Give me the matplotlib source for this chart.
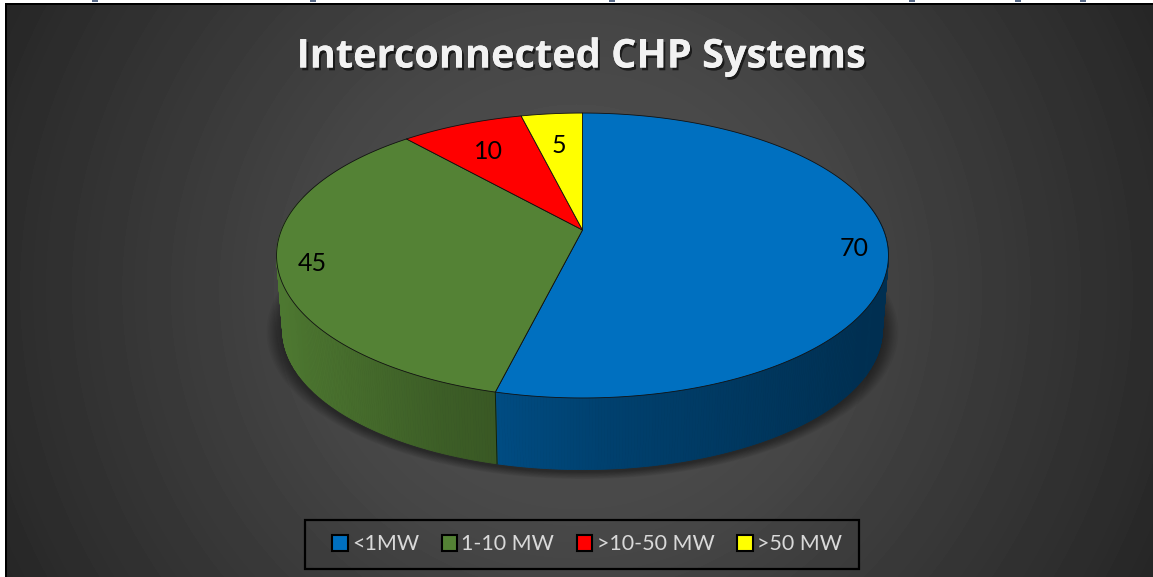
import numpy as np
import matplotlib
matplotlib.use("Agg")
import matplotlib.pyplot as plt
import matplotlib.patheffects as pe
from matplotlib.patches import Patch, Rectangle

categories = ["<1MW", "1-10 MW", ">10-50 MW", ">50 MW"]
values = [70, 45, 10, 5]
colors = ["#0070C0", "#548235", "#FF0000", "#FFFF00"]
label_radius = [0.89, 0.89, 0.75, 0.72]
title = "Interconnected CHP Systems"
# bits of the cropped caption line above the chart
caption_bits = [95, 313, 612, 912, 1018, 1083]

plt.rcParams["font.family"] = ["Lato", "DejaVu Sans"]

W, H = 1153, 577
fig = plt.figure(figsize=(W / 100, H / 100), dpi=100, facecolor="white")
ax = fig.add_axes([0, 0, 1, 1])
ax.axis("off")

# perspective view of a flat disc
cx, cy = 582.5, 230
A, B, k = 301, 137.9, 0.179
depth = 75
side_scale = 0.98


def project(theta, r=1.0):
    # theta in radians, clockwise from 12 o'clock
    u = r * np.sin(theta)
    v = r * np.cos(theta)
    d = 1 + k * v
    return A * u / d, B * v / d


def top_xy(theta, r=1.0):
    x, y = project(theta, r)
    return cx + x, cy - y


def low_xy(theta):
    x, y = project(theta)
    return cx + side_scale * x, cy + depth - side_scale * y


# background
yy, xx = np.mgrid[0:H, 0:W]
dist = np.hypot(xx - 576, yy - 290)
gray = np.interp(dist, [0, 280, 330, 476, 580, 640], [86, 69, 64, 52, 44, 38]) / 255
ax.imshow(gray, cmap="gray", vmin=0, vmax=1, extent=(0, W, H, 0), aspect="auto", zorder=0)
ax.set_xlim(0, W)
ax.set_ylim(H, 0)

# white margin and black frame of the pasted picture
ax.add_patch(Rectangle((0, 0), 5, H, fc="white", ec="none", zorder=1))
ax.add_patch(Rectangle((0, 0), W, 3, fc="white", ec="none", zorder=1))
ax.add_patch(Rectangle((5, 3), 2, H, fc="black", ec="none", zorder=1))
ax.add_patch(Rectangle((5, 3), W, 1.6, fc="black", ec="none", zorder=1))
for x in caption_bits:
    ax.add_patch(Rectangle((x - 3, 0), 6, 2, fc="#5a6c8a", ec="none", zorder=1))

# soft shadow under the disc
t = np.linspace(0, 2 * np.pi, 361)
lx, ly = low_xy(t)
lcx, lcy = lx.mean(), (ly.min() + ly.max()) / 2
for grow in np.arange(16, 0, -1.5):
    f = 1 + grow / 300
    ax.fill(lcx + (lx - lcx) * f, lcy + 2 + (ly - lcy) * f, color="black", alpha=0.045, lw=0, zorder=2)

# angles of the slices, clockwise from the top
fractions = np.array(values) / sum(values)
starts = 2 * np.pi * np.concatenate([[0], np.cumsum(fractions)[:-1]])
ends = 2 * np.pi * np.cumsum(fractions)

shade_x = [280, 440, 495, 600, 880]
shade_f = [0.92, 0.72, 0.68, 0.58, 0.42]

# rim, drawn as thin vertical strips
for s, e, c in zip(starts, ends, colors):
    rgb = np.array(matplotlib.colors.to_rgb(c))
    th = np.linspace(s, e, max(int((e - s) * 120), 2))
    for a, b in zip(th[:-1], th[1:]):
        if np.cos((a + b) / 2) > 0.25:
            continue
        xa, ya = top_xy(a)
        xb, yb = top_xy(b)
        xc, yc = low_xy(b)
        xd, yd = low_xy(a)
        col = rgb * np.interp((xa + xb) / 2, shade_x, shade_f)
        ax.fill([xa, xb, xc, xd], [ya, yb, yc, yd], color=col, lw=0.6, zorder=3)
    # seam between slices on the rim
    if np.cos(e) < 0.25:
        xa, ya = top_xy(e)
        xb, yb = low_xy(e)
        ax.plot([xa, xb], [ya, yb], color="#10200c", lw=0.7, zorder=4)

# top face
for s, e, c in zip(starts, ends, colors):
    th = np.linspace(s, e, 200)
    x, y = top_xy(th)
    ax.fill(np.r_[cx, x], np.r_[cy, y], facecolor=c, edgecolor="#111111", lw=0.6, zorder=5, joinstyle="round")

# data labels
for s, e, val, r in zip(starts, ends, values, label_radius):
    x, y = top_xy((s + e) / 2, r)
    ax.text(x, y + 3, str(val), color="black", fontsize=18, ha="center", va="center", zorder=6)

ax.text(581.5, 57, title, color="#F2F2F2", fontsize=28.6, fontweight="bold", family="Open Sans",
        ha="center", va="center", zorder=6,
        path_effects=[pe.withSimplePatchShadow(offset=(1.5, -2), shadow_rgbFace="black", alpha=0.6), pe.Normal()])

# legend box is drawn apart so its size does not depend on the entries
ax.add_patch(Rectangle((304.5, 520), 554, 49, fc="none", ec="black", lw=1.6, zorder=6))
handles = [Patch(facecolor=c, edgecolor="black", lw=1.5) for c in colors]
leg = ax.legend(handles, categories, loc="center", bbox_to_anchor=(587 / W, 1 - 544.5 / H), ncol=4,
                fontsize=15.5, frameon=False, handlelength=0.72, handleheight=0.72,
                handletextpad=0.2, columnspacing=1.05, borderpad=0, labelcolor="#D9D9D9")
leg.set_zorder(6)

fig.savefig("out.png", dpi=100)
